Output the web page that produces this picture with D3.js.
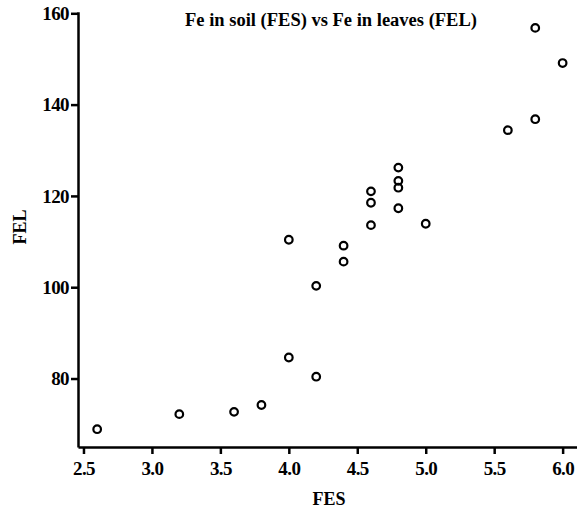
<!DOCTYPE html>
<html><head><meta charset="utf-8">
<script src="https://cdn.jsdelivr.net/npm/d3@7"></script>
<style>
body{margin:0;background:#fff;}
svg{display:block;}
text{font-family:"Liberation Serif","Times New Roman",serif;fill:#000;}
</style></head>
<body>
<svg id="chart" width="577" height="510"></svg>
<script>
const fes = [2.6, 3.2, 3.6, 3.8, 4.0, 4.0, 4.2, 4.2, 4.4, 4.4, 4.6, 4.6, 4.6, 4.8, 4.8, 4.8, 4.8, 5.0, 5.6, 5.8, 5.8, 6.0];
const fel = [68.9, 72.2, 72.7, 74.2, 84.6, 110.4, 80.4, 100.3, 105.6, 109.1, 113.6, 118.5, 121.0, 117.3, 121.8, 123.3, 126.2, 113.9, 134.4, 136.8, 156.8, 149.1];
const xTicks = [2.5, 3.0, 3.5, 4.0, 4.5, 5.0, 5.5, 6.0];
const yTicks = [80, 100, 120, 140, 160];
const title = "Fe in soil (FES) vs Fe in leaves (FEL)";
const xLabel = "FES";
const yLabel = "FEL";

const svg = d3.select("#chart");
const x = d3.scaleLinear().domain([2.46, 6.105]).range([78, 577]);
const y = d3.scaleLinear().domain([65, 160.35]).range([447, 11.7]);

const xAxis = svg.append("g").attr("transform", "translate(0,447)")
  .call(d3.axisBottom(x).tickValues(xTicks).tickFormat(d3.format(".1f")).tickSize(7).tickSizeOuter(0).tickPadding(8));
const yAxis = svg.append("g").attr("transform", "translate(78,0)")
  .call(d3.axisLeft(y).tickValues(yTicks).tickSize(7).tickSizeOuter(0).tickPadding(2));

[xAxis, yAxis].forEach(g => {
  g.attr("font-family", null);
  g.selectAll("path.domain").attr("stroke", "#000").attr("stroke-width", 2.5);
  g.selectAll(".tick line").attr("stroke", "#000").attr("stroke-width", 2.5);
  g.selectAll(".tick text").attr("font-size", 19).attr("font-weight", "bold")
    .style("font-family", "'Liberation Serif', serif").attr("fill", "#000").attr("letter-spacing", -0.6);
});

svg.append("g").selectAll("circle").data(fes.map((v, i) => [v, fel[i]])).join("circle")
  .attr("cx", d => x(d[0])).attr("cy", d => y(d[1])).attr("r", 3.8)
  .attr("fill", "none").attr("stroke", "#000").attr("stroke-width", 2.2);

svg.append("text").attr("x", 331).attr("y", 26).attr("text-anchor", "middle")
  .attr("font-size", 18.5).attr("font-weight", "bold").text(title);

svg.append("text").attr("x", 329).attr("y", 505).attr("text-anchor", "middle")
  .attr("font-size", 18).attr("font-weight", "bold").text(xLabel);

svg.append("text").attr("transform", "translate(26,227) rotate(-90)").attr("text-anchor", "middle")
  .attr("font-size", 18).attr("font-weight", "bold").text(yLabel);
</script>
</body></html>
